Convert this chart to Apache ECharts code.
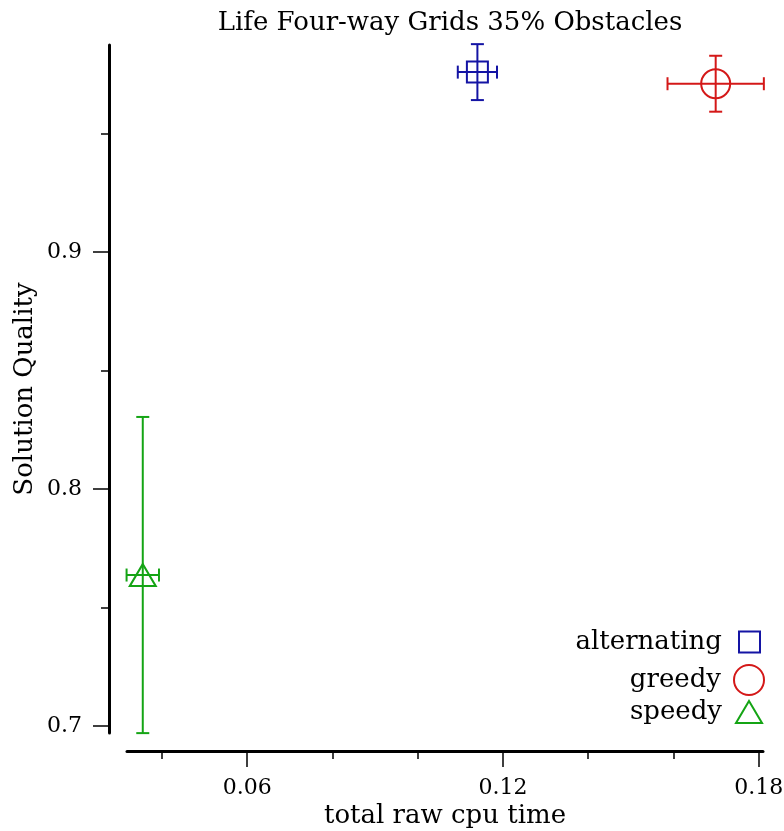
<!DOCTYPE html>
<html lang="en">
<head>
<meta charset="UTF-8">
<title>Life Four-way Grids 35% Obstacles</title>
<script src="https://cdn.jsdelivr.net/npm/echarts@6/dist/echarts.min.js"></script>
</head>
<body style="margin:0;background:#fff">
<div id="main" style="width:784px;height:831px;"></div>
<script>
// data
var names = ['alternating', 'greedy', 'speedy'];
var cpuTime = [0.1140, 0.1699, 0.0355];
var cpuErr = [0.0046, 0.0113, 0.0038];
var quality = [0.9759, 0.9710, 0.7637];
var qualityErr = [0.0118, 0.0118, 0.0667];
var xMajor = [0.06, 0.12, 0.18];
var xMinor = [0.04, 0.08, 0.10, 0.14, 0.16];
var yMajor = [0.7, 0.8, 0.9];
var yMinor = [0.75, 0.85, 0.95];

var colors = ['#1414a4', '#d41818', '#14a414'];
var symbols = ['rect', 'circle', 'triangle'];
var sizes = [21, 29, [26, 22]];
var font = 'DejaVu Serif';

var myChart = echarts.init(document.getElementById('main'));

function errorBars(i) {
    return {
        type: 'custom',
        name: names[i] + '-err',
        xAxisIndex: 0,
        yAxisIndex: 0,
        clip: false,
        silent: true,
        data: [[cpuTime[i], quality[i], cpuErr[i], qualityErr[i]]],
        renderItem: function (params, api) {
            var x = api.value(0), y = api.value(1), dx = api.value(2), dy = api.value(3);
            var c = api.coord([x, y]);
            var l = api.coord([x - dx, y])[0], r = api.coord([x + dx, y])[0];
            var t = api.coord([x, y + dy])[1], b = api.coord([x, y - dy])[1];
            var cap = 6.5;
            var st = {stroke: colors[i], lineWidth: 2, fill: null};
            return {
                type: 'group',
                children: [
                    {type: 'line', shape: {x1: l, y1: c[1], x2: r, y2: c[1]}, style: st},
                    {type: 'line', shape: {x1: l, y1: c[1] - cap, x2: l, y2: c[1] + cap}, style: st},
                    {type: 'line', shape: {x1: r, y1: c[1] - cap, x2: r, y2: c[1] + cap}, style: st},
                    {type: 'line', shape: {x1: c[0], y1: t, x2: c[0], y2: b}, style: st},
                    {type: 'line', shape: {x1: c[0] - cap, y1: t, x2: c[0] + cap, y2: t}, style: st},
                    {type: 'line', shape: {x1: c[0] - cap, y1: b, x2: c[0] + cap, y2: b}, style: st}
                ]
            };
        }
    };
}

var series = [];
for (var i = 0; i < names.length; i++) {
    series.push(errorBars(i));
    series.push({
        type: 'scatter',
        name: names[i],
        xAxisIndex: 0,
        yAxisIndex: 0,
        symbol: symbols[i],
        symbolSize: sizes[i],
        symbolKeepAspect: false,
        itemStyle: {color: 'transparent', borderColor: colors[i], borderWidth: 2, opacity: 1},
        emphasis: {disabled: true},
        data: [[cpuTime[i], quality[i]]]
    });
}

// one legend per row so the icons line up on the right
var legendTops = [627, 664, 697];
var legendItem = [[21, 21], [30, 30], [26, 22]];
var legendRight = [23, 19, 21];
var legendPad = [12, 8, 9];
var legends = [];
for (var k = 0; k < names.length; k++) {
    legends.push({
        orient: 'vertical',
        right: legendRight[k],
        top: legendTops[k],
        padding: 0,
        align: 'right',
        itemWidth: legendItem[k][0],
        itemHeight: legendItem[k][1],
        symbolKeepAspect: false,
        selectedMode: false,
        textStyle: {fontFamily: font, fontSize: 26, color: '#000', lineHeight: 30, padding: [0, legendPad[k], 0, 0]},
        data: [{
            name: names[k],
            icon: symbols[k],
            itemStyle: {color: 'transparent', borderColor: colors[k], borderWidth: 2}
        }]
    });
}

var xMin = 0.0318, xMax = 0.1810;
var yMin = 0.69705, yMax = 0.98734;

var option = {
    animation: false,
    backgroundColor: '#fff',
    title: {
        text: 'Life Four-way Grids 35% Obstacles',
        left: 445,
        top: 5,
        textAlign: 'center',
        textStyle: {fontFamily: font, fontSize: 26, fontWeight: 'normal', color: '#000'}
    },
    legend: legends,
    grid: {left: 127, right: 21, top: 45, bottom: 98, outerBoundsMode: 'none'},
    xAxis: [{
        type: 'value',
        position: 'bottom',
        min: xMin,
        max: xMax,
        offset: 18,
        name: 'total raw cpu time',
        nameLocation: 'middle',
        nameGap: 52,
        nameMoveOverlap: false,
        nameTextStyle: {fontFamily: font, fontSize: 26, color: '#000'},
        axisLine: {show: true, lineStyle: {color: '#000', width: 3}},
        axisTick: {show: true, length: 16, customValues: xMajor, lineStyle: {color: '#000', width: 1.5}},
        axisLabel: {customValues: xMajor, margin: 26, fontFamily: font, fontSize: 22, color: '#000',
            formatter: function (v) { return v.toFixed(2); }},
        splitLine: {show: false}
    }, {
        type: 'value',
        position: 'bottom',
        min: xMin,
        max: xMax,
        offset: 18,
        axisLine: {show: false},
        axisTick: {show: true, length: 8, customValues: xMinor, lineStyle: {color: '#000', width: 1.5}},
        axisLabel: {show: false},
        splitLine: {show: false}
    }],
    yAxis: [{
        type: 'value',
        position: 'left',
        min: yMin,
        max: yMax,
        offset: 18,
        name: 'Solution Quality',
        nameLocation: 'middle',
        nameGap: 71,
        nameMoveOverlap: false,
        nameTextStyle: {fontFamily: font, fontSize: 26, color: '#000'},
        axisLine: {show: true, lineStyle: {color: '#000', width: 3}},
        axisTick: {show: true, length: 16, customValues: yMajor, lineStyle: {color: '#000', width: 1.5}},
        axisLabel: {customValues: yMajor, margin: 27, fontFamily: font, fontSize: 22, color: '#000',
            formatter: function (v) { return v.toFixed(1); }},
        splitLine: {show: false}
    }, {
        type: 'value',
        position: 'left',
        min: yMin,
        max: yMax,
        offset: 18,
        axisLine: {show: false},
        axisTick: {show: true, length: 8, customValues: yMinor, lineStyle: {color: '#000', width: 1.5}},
        axisLabel: {show: false},
        splitLine: {show: false}
    }],
    series: series
};

myChart.setOption(option);
</script>
</body>
</html>
